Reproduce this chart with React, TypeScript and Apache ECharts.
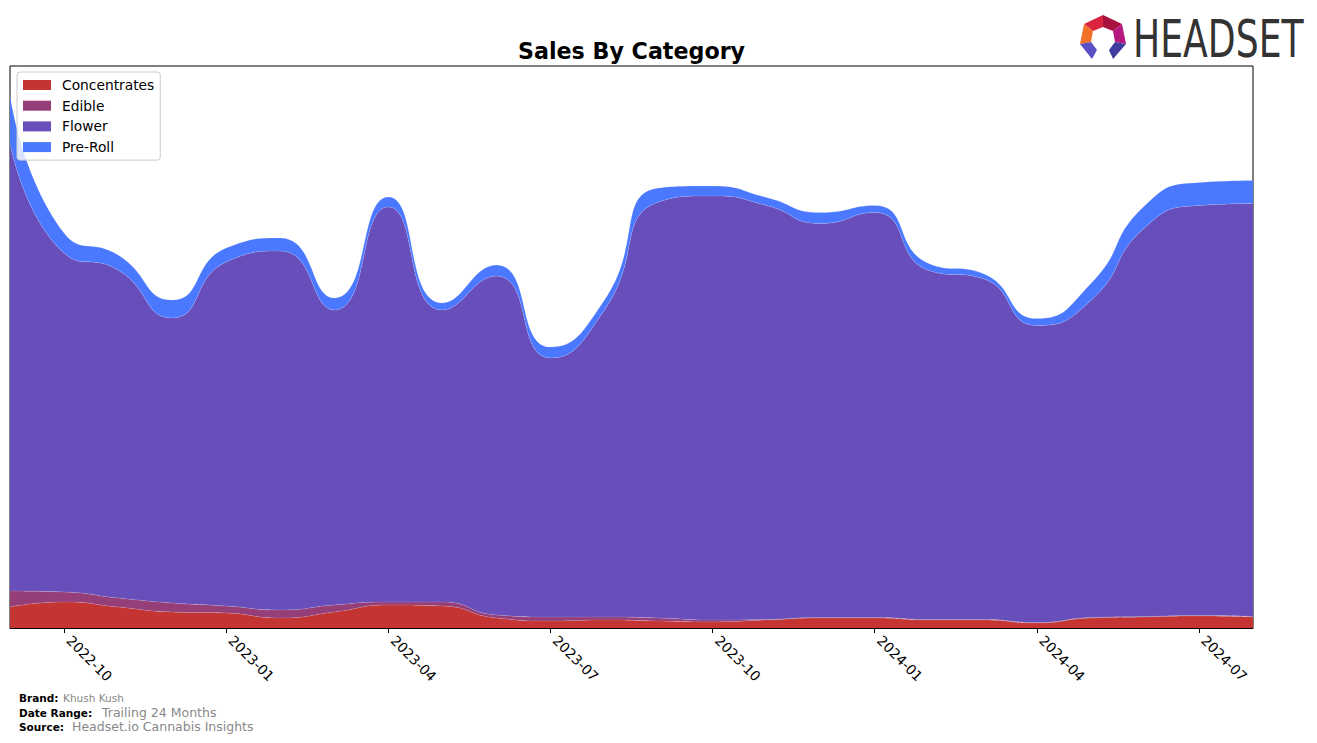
import React, { useEffect, useRef } from "react";
import * as echarts from "echarts";

const months = [
  "2022-09", "2022-10", "2022-11", "2022-12", "2023-01", "2023-02", "2023-03", "2023-04",
  "2023-05", "2023-06", "2023-07", "2023-08", "2023-09", "2023-10", "2023-11", "2023-12",
  "2024-01", "2024-02", "2024-03", "2024-04", "2024-05", "2024-06", "2024-07", "2024-08",
];

const concentrates = [21, 26, 21, 16, 15, 10, 16, 23, 22, 10, 7, 8, 7, 6, 8, 10, 10, 8, 8, 5, 10, 11, 12, 11];
const edible = [16, 10, 9, 9, 7, 8, 7, 3, 4, 3, 4, 3, 3, 2, 0.5, 0.5, 0.5, 0.5, 0.5, 0.5, 0.5, 0.5, 0.5, 0.5];
const flower = [448, 339, 328, 285, 344, 359, 295, 395, 292, 339, 259, 307, 416, 424, 414, 394, 405, 349, 341, 297, 317, 389, 410, 413];
const preRoll = [48, 20, 15, 18, 14, 13, 12, 10, 7, 11, 11, 10, 14, 10, 8, 11, 7, 7, 5, 7, 17, 22, 23, 23];

const tickMonths = ["2022-10", "2023-01", "2023-04", "2023-07", "2023-10", "2024-01", "2024-04", "2024-07"];

const seriesNames = ["Concentrates", "Edible", "Flower", "Pre-Roll"];
const seriesColors = ["#C33432", "#963E78", "#684EBA", "#4A78FF"];

export default function App() {
  const ref = useRef<HTMLDivElement>(null);

  useEffect(() => {
    if (!ref.current) return;
    const chart = echarts.init(ref.current, null, { renderer: "svg" });
    const values = [concentrates, edible, flower, preRoll];
    const series = seriesNames.map((name, i) => ({
      name,
      type: "line",
      stack: "total",
      smooth: 0.55,
      symbol: "none",
      showSymbol: false,
      color: seriesColors[i],
      itemStyle: { color: seriesColors[i] },
      lineStyle: { width: 0.6, color: "rgba(255,255,255,0.25)" },
      areaStyle: { color: seriesColors[i], opacity: 1 },
      data: values[i],
    }));

    const showTick = (_idx: number, val: string) => tickMonths.indexOf(val) >= 0;

    const footerFont = "DejaVu Sans";
    const option: any = {
      animation: false,
      grid: {
        left: 10,
        top: 66,
        right: 64,
        bottom: 115,
        show: true,
        borderColor: "#000",
        borderWidth: 1,
        backgroundColor: "transparent",
      },
      legend: {
        orient: "vertical",
        left: 17,
        top: 72,
        icon: "rect",
        itemWidth: 28,
        itemHeight: 10,
        itemGap: 6.7,
        padding: [6, 6, 6, 6],
        backgroundColor: "rgba(255,255,255,0.8)",
        borderColor: "#cccccc",
        borderWidth: 1,
        borderRadius: 3,
        textStyle: { fontFamily: "DejaVu Sans", fontSize: 13.8, color: "#000", padding: [0, 0, 0, 6] },
        data: seriesNames,
      },
      xAxis: {
        type: "category",
        data: months,
        boundaryGap: false,
        splitLine: { show: false },
        axisLine: { show: true, lineStyle: { color: "#000", width: 1 } },
        axisTick: { show: true, length: 5, lineStyle: { color: "#000" }, interval: showTick },
        axisLabel: {
          show: true,
          rotate: -45,
          margin: 15,
          verticalAlign: "bottom",
          fontFamily: "DejaVu Sans",
          fontSize: 13.8,
          color: "#000",
          interval: showTick,
        },
      },
      yAxis: {
        type: "value",
        min: 0,
        max: 562,
        show: false,
        splitLine: { show: false },
      },
      series,
      graphic: [
        {
          type: "text",
          x: 631.5,
          y: 51,
          style: {
            text: "Sales By Category",
            fontFamily: "DejaVu Sans",
            fontWeight: "bold",
            fontSize: 22.2,
            fill: "#000",
            textAlign: "center",
            textVerticalAlign: "middle",
          },
        },
        { type: "text", x: 19, y: 698, style: { text: "Brand:", fontFamily: footerFont, fontWeight: "bold", fontSize: 10.5, fill: "#000", textVerticalAlign: "middle" } },
        { type: "text", x: 63, y: 698, style: { text: "Khush Kush", fontFamily: footerFont, fontSize: 10.5, fill: "#888888", textVerticalAlign: "middle" } },
        { type: "text", x: 19, y: 712.5, style: { text: "Date Range:", fontFamily: footerFont, fontWeight: "bold", fontSize: 10.5, fill: "#000", textVerticalAlign: "middle" } },
        { type: "text", x: 102, y: 712.5, style: { text: "Trailing 24 Months", fontFamily: footerFont, fontSize: 12.5, fill: "#888888", textVerticalAlign: "middle" } },
        { type: "text", x: 19, y: 726.5, style: { text: "Source:", fontFamily: footerFont, fontWeight: "bold", fontSize: 10.5, fill: "#000", textVerticalAlign: "middle" } },
        { type: "text", x: 72, y: 726.5, style: { text: "Headset.io Cannabis Insights", fontFamily: footerFont, fontSize: 12.5, fill: "#888888", textVerticalAlign: "middle" } },
        { type: "polygon", shape: { points: [[1084, 24], [1103, 15], [1103, 27], [1093, 31]] }, style: { fill: "#D9233F" } },
        { type: "polygon", shape: { points: [[1103, 15], [1122, 24], [1113, 31], [1103, 27]] }, style: { fill: "#A8123E" } },
        { type: "polygon", shape: { points: [[1084, 24], [1093, 31], [1091, 42], [1080, 44]] }, style: { fill: "#F2722A" } },
        { type: "polygon", shape: { points: [[1122, 24], [1126, 44], [1115, 42], [1113, 31]] }, style: { fill: "#B5187F" } },
        { type: "polygon", shape: { points: [[1080, 44], [1091, 42], [1097, 50], [1092, 59]] }, style: { fill: "#5B4FC4" } },
        { type: "polygon", shape: { points: [[1126, 44], [1115, 42], [1109, 50], [1113, 59]] }, style: { fill: "#3F3A9E" } },
        {
          type: "text",
          x: 1133,
          y: 39,
          scaleX: 0.71,
          scaleY: 1,
          style: {
            text: "HEADSET",
            fontFamily: "DejaVu Sans",
            fontSize: 51,
            fill: "#333333",
            textAlign: "left",
            textVerticalAlign: "middle",
          },
        },
      ],
    };
    chart.setOption(option);
    return () => chart.dispose();
  }, []);

  return (
    <div
      ref={ref}
      style={{ position: "fixed", left: 0, top: 0, width: 1317, height: 743, background: "#fff" }}
    />
  );
}
